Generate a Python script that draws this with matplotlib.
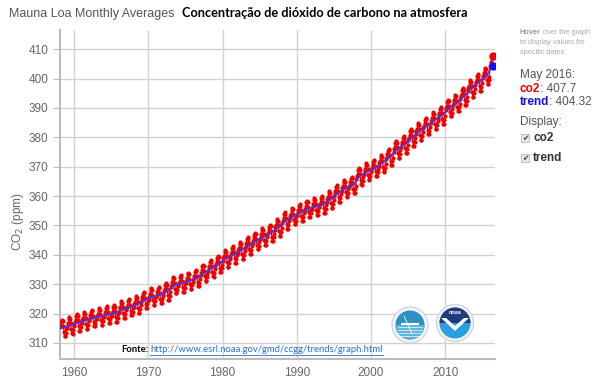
import matplotlib.pyplot as plt
import numpy as np
from matplotlib.patches import Circle, Wedge, Polygon, Rectangle

# annual mean CO2 (ppm) at Mauna Loa, 1958 .. 2016 (2016 = Jan-May level)
years = list(range(1958, 2017))
annual_co2 = [315.0, 315.97, 316.91, 317.64, 318.45, 318.99, 319.62, 320.04, 321.38, 322.16,
              323.04, 324.62, 325.68, 326.32, 327.45, 329.68, 330.18, 331.11, 332.04, 333.83,
              335.40, 336.84, 338.75, 340.11, 341.45, 343.05, 344.65, 346.12, 347.42, 349.19,
              351.57, 353.12, 354.39, 355.61, 356.45, 357.10, 358.83, 360.82, 362.61, 363.73,
              366.70, 368.38, 369.55, 371.14, 373.28, 375.80, 377.52, 379.80, 381.90, 383.79,
              385.60, 387.43, 389.90, 391.65, 393.85, 396.52, 398.65, 400.83, 404.85]
# monthly departure from the annual mean (Jan .. Dec)
season_offset = [-0.75, 0.1, 0.9, 2.2, 2.85, 2.3, 0.8, -1.2, -2.75, -2.8, -1.5, -0.2]

# trend curve
trend_x = [1958.2] + [y + 0.5 for y in years[1:-1]] + [2016.37]
trend_y = [314.9] + annual_co2[1:-1] + [404.32]

latest_label = "May 2016:"
latest_co2 = 407.7
latest_trend = 404.32

# monthly series
mx, my = [], []
for i, y in enumerate(years):
    months = range(12)
    if y == 1958:
        months = range(2, 12)
    if y == 2016:
        months = range(0, 5)
    for m in months:
        mx.append(y + (m + 0.5) / 12)
        my.append(annual_co2[i] + season_offset[m])

plt.rcParams['font.family'] = ['Liberation Sans', 'DejaVu Sans']
grey = '#666666'

fig = plt.figure(figsize=(6, 3.8), dpi=100)
ax = fig.add_axes([0.1, 0.055, 0.725, 0.866])

ax.plot(mx, my, color='#ee0000', linewidth=0.8, marker='o', markersize=2.0, zorder=3)
ax.plot(trend_x, trend_y, color='#3a3af0', linewidth=1.2, zorder=4)
ax.plot([mx[-1]], [latest_co2], 'o', color='#ee0000', markersize=5, zorder=5)
ax.plot([trend_x[-1]], [latest_trend], 'o', color='#1111ff', markersize=5, zorder=5)

ax.set_xlim(1958.1, 2016.7)
ax.set_ylim(304.5, 416.5)
ax.set_xticks(range(1960, 2011, 10))
ax.set_yticks(range(310, 411, 10))
ax.grid(True, color='#d2d2d2', linewidth=1)
ax.set_axisbelow(True)
for s in ['top', 'right']:
    ax.spines[s].set_visible(False)
for s in ['left', 'bottom']:
    ax.spines[s].set_color('#bbbbbb')
    ax.spines[s].set_linewidth(1.5)
ax.tick_params(axis='y', length=5, color='#bbbbbb', labelcolor=grey, labelsize=8.5)
ax.tick_params(axis='x', length=0, labelcolor=grey, labelsize=8.5, pad=6)

# overlay in pixel coordinates
ov = fig.add_axes([0, 0, 1, 1], zorder=10)
ov.set_xlim(0, 600)
ov.set_ylim(380, 0)
ov.axis('off')
ov.patch.set_alpha(0)

ov.text(18, 222, 'CO$_2$ (ppm)', rotation=90, ha='center', va='center', color=grey, fontsize=8.5)
ov.text(9, 14, 'Mauna Loa Monthly Averages', color='#555555', fontsize=9, va='center')
ov.text(182, 13, 'Concentração de dióxido de carbono na atmosfera', fontsize=9.2,
        fontweight='bold', family=['Lato', 'DejaVu Sans'], color='black', va='center')

fig.canvas.draw()
inv = ov.transData.inverted()


def after(t, gap=0.0):
    # x position (overlay pixels) just right of a drawn text
    bb = t.get_window_extent()
    return inv.transform([[bb.x1, bb.y0]])[0][0] + gap


# side panel
t = ov.text(520, 33, 'Hover', color='#999999', fontsize=5.3, fontweight='bold', va='center')
fig.canvas.draw()
ov.text(after(t), 33, ' over the graph', color='#aaaaaa', fontsize=5.3, va='center')
ov.text(520, 43, 'to display values for', color='#aaaaaa', fontsize=5.3, va='center')
ov.text(520, 53, 'specific dates', color='#aaaaaa', fontsize=5.3, va='center')
ov.text(520, 75, latest_label, color='#555555', fontsize=8.5, va='center')
tc = ov.text(520, 89, 'co2', color='#ee0000', fontsize=8.5, fontweight='bold', va='center')
tt = ov.text(520, 102, 'trend', color='#1111ee', fontsize=8.5, fontweight='bold', va='center')
fig.canvas.draw()
ov.text(after(tc), 89, ': %.1f' % latest_co2, color='#555555', fontsize=8.5, va='center')
ov.text(after(tt), 102, ': %.2f' % latest_trend, color='#555555', fontsize=8.5, va='center')
ov.text(520, 122, 'Display:', color='#555555', fontsize=8.5, va='center')
for yy, lab in [(138, 'co2'), (158, 'trend')]:
    ov.add_patch(Rectangle((521, yy - 4), 8, 8, facecolor='#e6e6e6', edgecolor='#bbbbbb', lw=0.6))
    ov.text(525, yy, '✔', color='#444444', fontsize=5.5, ha='center', va='center',
            family=['DejaVu Sans'])
    ov.text(533, yy, lab, color='#333333', fontsize=8.5, fontweight='bold', va='center')

# logos
ov.add_patch(Circle((410, 325), 18, facecolor='#f2f4f8', edgecolor='#d0d6e0', lw=1))
ov.add_patch(Circle((410, 325), 14.5, facecolor='#2e8fc4', edgecolor='none'))
ov.add_patch(Wedge((410, 325), 14.5, 0, 180, facecolor='#5fb5d8', edgecolor='none'))
for yy in [327, 330, 333, 336]:
    ov.plot([398, 422], [yy, yy], color='white', lw=0.6, alpha=0.8)
ov.plot([402, 418], [324, 324], color='white', lw=1.5)
ov.plot([404, 412], [316, 334], color='white', lw=0.6)

ov.add_patch(Circle((455, 323), 18.5, facecolor='#f2f4f8', edgecolor='#d0d6e0', lw=1))
ov.add_patch(Circle((455, 323), 15.5, facecolor='#2a9fe0', edgecolor='none'))
ov.add_patch(Wedge((455, 323), 15.5, 180, 360, facecolor='#1f3a7d', edgecolor='none'))
ov.add_patch(Polygon([[441, 318], [455, 331], [469, 318], [464, 318], [455, 326], [446, 318]],
                     closed=True, facecolor='white', edgecolor='none'))
ov.text(455, 313, 'noaa', color='white', fontsize=4, ha='center', va='center', fontweight='bold')

# source line
ov.text(121, 350, 'Fonte:', fontsize=6.8, fontweight='bold', color='black', va='center',
        family=['Lato', 'DejaVu Sans'])
t2 = ov.text(150, 350, 'http://www.esrl.noaa.gov/gmd/ccgg/trends/graph.html', fontsize=6.8,
             color='#2a6ed2', va='center', family=['Lato', 'DejaVu Sans'])
fig.canvas.draw()
ov.plot([150, after(t2)], [355, 355], color='#2a6ed2', lw=0.6)

fig.savefig('out.png', dpi=100)
